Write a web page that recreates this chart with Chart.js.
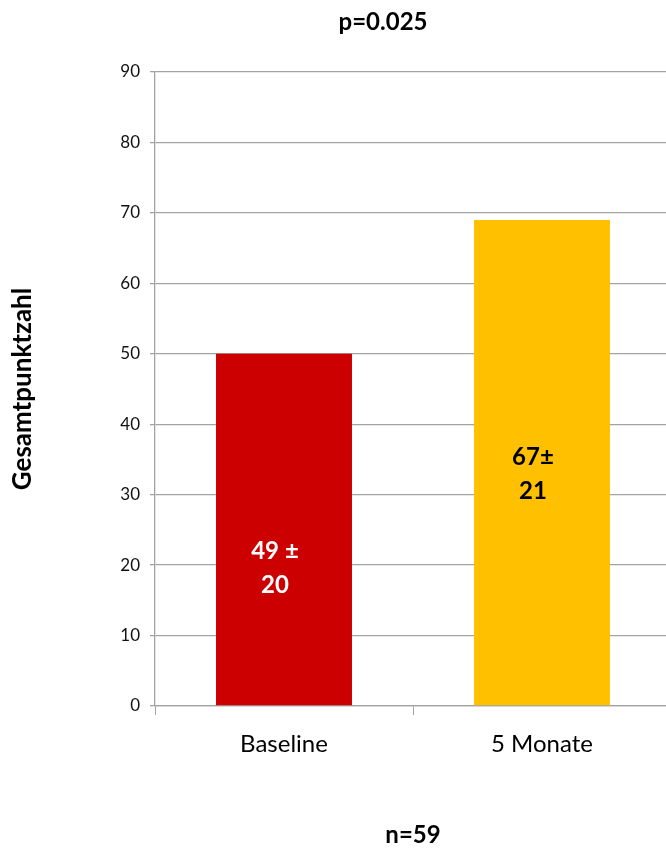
<!DOCTYPE html>
<html>
<head>
<meta charset="utf-8">
<script src="https://cdn.jsdelivr.net/npm/chart.js@4"></script>
<style>
  html, body { margin: 0; padding: 0; background: #fff; overflow: hidden; }
  #wrap { width: 672px; height: 852px; }
</style>
</head>
<body>
<div id="wrap"><canvas id="chartScore"></canvas></div>
<script>
const categories = ["Baseline", "5 Monate"];
const scores = [50, 69];
const scoreTexts = [["49 ±", "20"], ["67±", "21"]];
const yTicks = [0, 10, 20, 30, 40, 50, 60, 70, 80, 90];

const gridGray = "#a3a3a3";
const fontName = "Lato";

// texts inside the bars, placed in data units on the y scale
const barTextPlugin = {
  id: "barText",
  afterDatasetsDraw(chart, args, opts) {
    const ctx = chart.ctx;
    const bars = chart.getDatasetMeta(0).data;
    const y = chart.scales.y;
    ctx.save();
    ctx.font = `bold 24px ${fontName}`;
    ctx.textAlign = "center";
    ctx.textBaseline = "middle";
    bars.forEach((bar, i) => {
      const cy = y.getPixelForValue(opts.anchors[i]);
      ctx.fillStyle = opts.colors[i];
      ctx.fillText(scoreTexts[i][0], bar.x + opts.shiftX, cy - 17);
      ctx.fillText(scoreTexts[i][1], bar.x + opts.shiftX, cy + 17);
    });
    ctx.restore();
  }
};

// p value above the plot
const pTitlePlugin = {
  id: "pTitle",
  afterDraw(chart, args, opts) {
    const ctx = chart.ctx;
    ctx.save();
    ctx.font = `bold 24px ${fontName}`;
    ctx.fillStyle = "#000";
    ctx.textAlign = "center";
    ctx.textBaseline = "middle";
    ctx.fillText(opts.text, opts.x, opts.y);
    ctx.restore();
  }
};

new Chart(document.getElementById("chartScore"), {
  type: "bar",
  data: {
    labels: categories,
    datasets: [{
      data: scores,
      backgroundColor: ["#cc0000", "#ffc000"],
      borderWidth: 0,
      categoryPercentage: 1,
      barPercentage: 0.527
    }]
  },
  options: {
    responsive: true,
    maintainAspectRatio: false,
    animation: false,
    layout: { padding: { top: 72, right: 1, left: 0, bottom: 0 } },
    plugins: {
      legend: { display: false },
      tooltip: { enabled: false },
      barText: { anchors: [19.6, 32.9], colors: ["#fff", "#000"], shiftX: -9 },
      pTitle: { text: "p=0.025", x: 383, y: 22 }
    },
    scales: {
      x: {
        afterFit: s => { s.height = 146; },
        grid: { display: true, drawOnChartArea: false, drawTicks: true, tickLength: 9, offset: true, color: gridGray },
        border: { display: true, color: gridGray, width: 1.3 },
        ticks: { color: "#000", font: { family: fontName, size: 24 }, padding: 15 },
        title: {
          display: true,
          text: "n=59",
          color: "#000",
          font: { family: fontName, size: 24, weight: "bold" },
          padding: { top: 0, bottom: 2 }
        }
      },
      y: {
        min: 0,
        max: 90,
        afterFit: s => { s.width = 155; },
        afterBuildTicks: s => { s.ticks = yTicks.map(v => ({ value: v })); },
        grid: { color: gridGray, lineWidth: 1.3, drawTicks: true, tickLength: 5 },
        border: { display: true, color: gridGray, width: 1.3 },
        ticks: { color: "#111", font: { family: fontName, size: 17 }, padding: 10 },
        title: {
          display: true,
          text: "Gesamtpunktzahl",
          color: "#000",
          font: { family: fontName, size: 26, weight: "bold" },
          padding: { top: 7, bottom: 0 }
        }
      }
    }
  },
  plugins: [barTextPlugin, pTitlePlugin]
});
</script>
</body>
</html>
